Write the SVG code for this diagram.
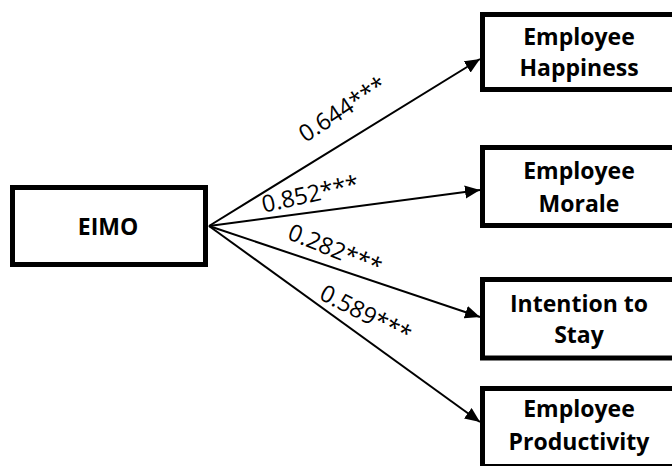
<svg xmlns="http://www.w3.org/2000/svg" width="672" height="466" viewBox="0 0 672 466">
  <defs>
    <style>
      .box { fill: #ffffff; stroke: #000000; stroke-width: 5; }
      .name { font-family: "Open Sans", "Liberation Sans", sans-serif; font-weight: bold; font-size: 23px; fill: #000000; text-anchor: middle; }
      .path { stroke: #000000; stroke-width: 2; fill: none; marker-end: url(#head); }
      .coef { font-family: "Open Sans", "Liberation Sans", sans-serif; font-size: 23.5px; fill: #000000; text-anchor: middle; }
    </style>
    <marker id="head" markerUnits="userSpaceOnUse" markerWidth="16" markerHeight="14" refX="15" refY="6.5" orient="auto">
      <path d="M0,0 L15,6.5 L0,13 Z" fill="#000000"/>
    </marker>
  </defs>

  <!-- path arrows from the predictor to each outcome -->
  <g id="connectors">
    <line class="path" x1="209" y1="226" x2="480" y2="59"/>
    <line class="path" x1="209" y1="226" x2="480" y2="190"/>
    <line class="path" x1="209" y1="226" x2="480" y2="317"/>
    <line class="path" x1="209" y1="226" x2="480" y2="422"/>
    <text class="coef" x="347" y="116" transform="rotate(-33 347 116)">0.644***</text>
    <text class="coef" x="312" y="202" transform="rotate(-12.5 312 202)">0.852***</text>
    <text class="coef" x="332" y="257" transform="rotate(22 332 257)">0.282***</text>
    <text class="coef" x="362" y="321" transform="rotate(27 362 321)">0.589***</text>
  </g>

  <g id="eimo">
    <rect class="box" x="12.5" y="187.5" width="193" height="77"/>
    <text class="name" x="108" y="235">EIMO</text>
  </g>

  <g id="happiness">
    <rect class="box" x="482.5" y="14.5" width="195" height="75"/>
    <text class="name" x="579" y="45">Employee</text>
    <text class="name" x="579" y="76">Happiness</text>
  </g>

  <g id="morale">
    <rect class="box" x="482.5" y="147.5" width="195" height="78"/>
    <text class="name" x="579" y="179">Employee</text>
    <text class="name" x="579" y="212">Morale</text>
  </g>

  <g id="intention">
    <rect class="box" x="482.5" y="279.5" width="195" height="78.5"/>
    <text class="name" x="579" y="312">Intention to</text>
    <text class="name" x="579" y="343">Stay</text>
  </g>

  <g id="productivity">
    <rect class="box" x="482.5" y="388.5" width="195" height="78"/>
    <text class="name" x="579" y="417">Employee</text>
    <text class="name" x="579" y="450">Productivity</text>
  </g>
</svg>
